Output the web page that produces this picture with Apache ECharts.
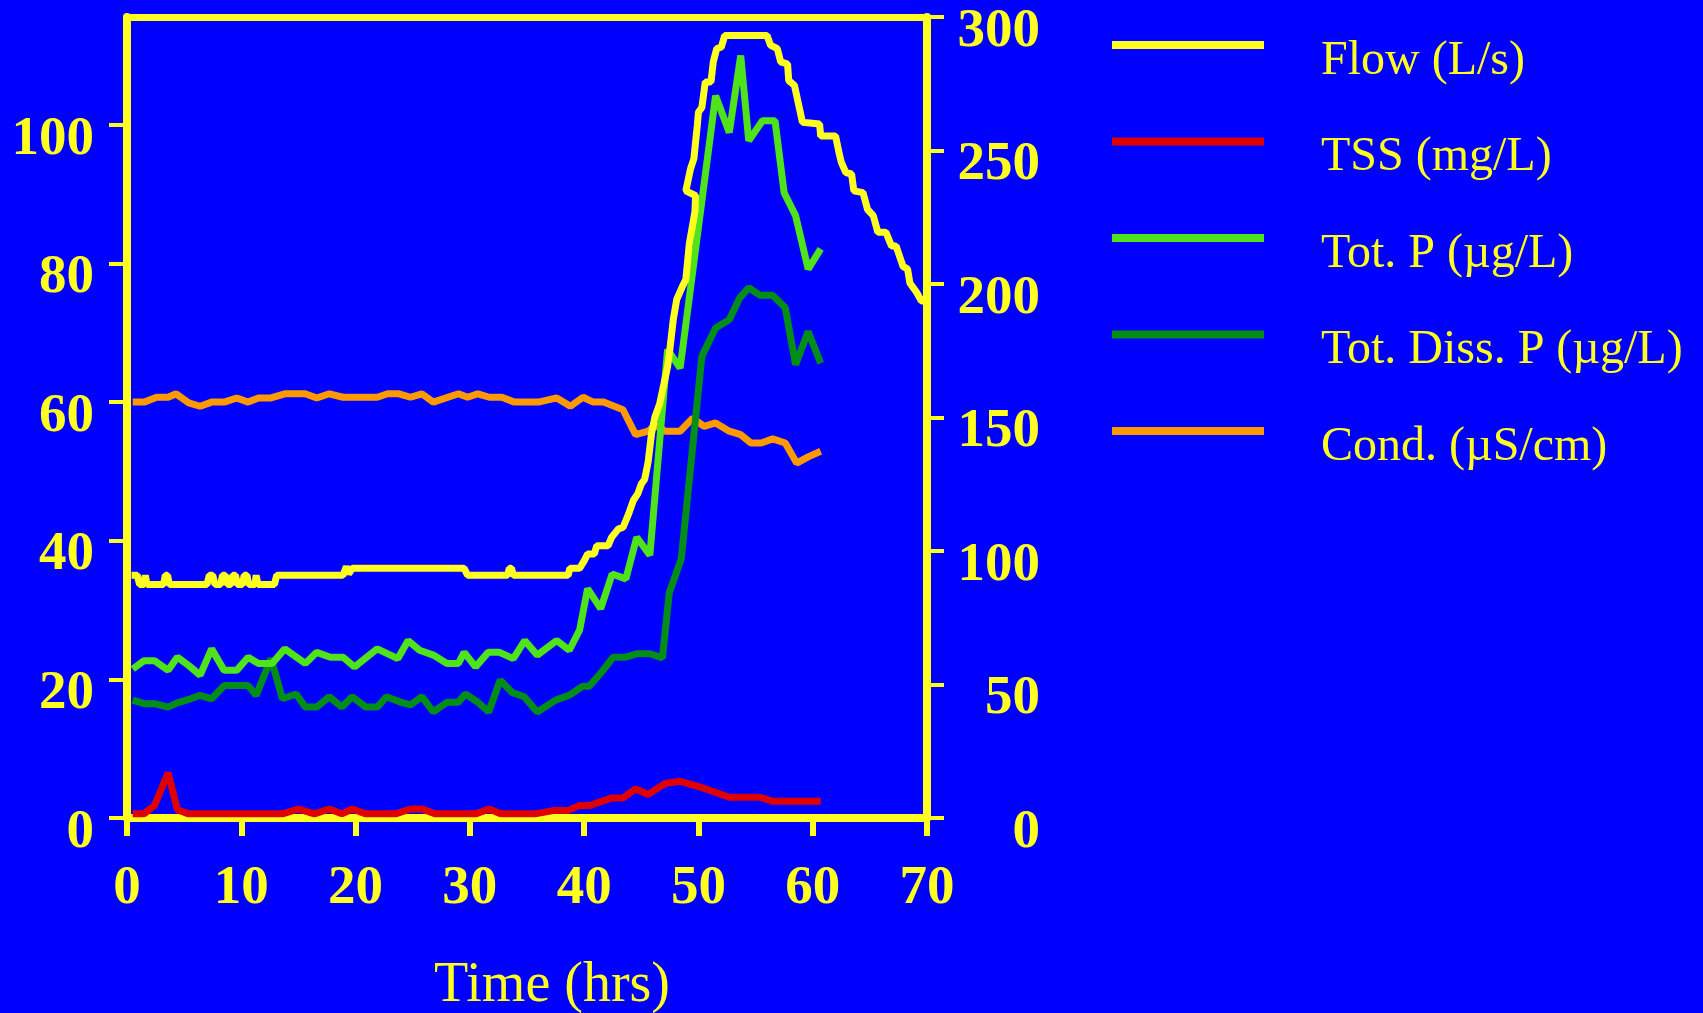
<!DOCTYPE html>
<html>
<head>
<meta charset="utf-8">
<script src="https://cdn.jsdelivr.net/npm/echarts@6/dist/echarts.min.js"></script>
<style>
  html, body { margin: 0; padding: 0; background: #0000ff; }
  #chart { width: 1703px; height: 1013px; }
</style>
</head>
<body>
<div id="chart"></div>
<script>
// values, hours on x
const xTicks = [0, 10, 20, 30, 40, 50, 60, 70]
const leftTicks = [0, 20, 40, 60, 80, 100]
const rightTicks = [0, 50, 100, 150, 200, 250, 300]

const seriesNames = ['Flow (L/s)', 'TSS (mg/L)', 'Tot. P (\u00b5g/L)', 'Tot. Diss. P (\u00b5g/L)', 'Cond. (\u00b5S/cm)']

// flow, right axis
const flowTime = [0.4, 0.9, 1.1, 1.5, 1.6, 1.75, 3.2, 3.35, 3.55, 3.7, 7.0, 7.2, 7.5, 7.7, 8.2, 8.35, 8.6, 8.8, 9.1, 9.25,
  9.5, 9.65, 10.1, 10.25, 10.5, 10.65, 11.2, 11.3, 11.45, 12.9, 13.1, 18.9, 19.2, 19.4, 19.7, 29.5, 29.8, 33.3, 33.45, 33.65,
  33.8, 38.6, 38.75, 39.6, 40.0, 40.3, 40.9, 41.1, 42.1, 42.4, 43.0, 43.4, 43.9, 44.3, 44.7, 45.0, 45.3, 45.6, 45.9, 46.2,
  46.6, 47.3, 47.5, 47.8, 48.1, 48.6, 48.9, 49.2, 49.7, 49.75, 48.9, 49.3, 49.6, 49.9, 50.0, 50.3, 50.6, 51.1, 51.3, 51.6,
  52.0, 52.3, 56.0, 56.3, 56.9, 57.2, 57.8, 57.9, 58.4, 59.1, 60.6, 60.7, 62.0, 62.3, 62.5, 62.9, 63.4, 63.6, 64.4, 64.8,
  65.3, 65.7, 66.4, 66.9, 67.3, 67.9, 68.3, 68.5, 69.1, 69.5, 69.8]
const flowVal = [90.9, 90.9, 87.5, 87.5, 90.9, 87.5, 87.5, 90.9, 90.9, 87.5, 87.5, 90.9, 90.9, 87.5, 87.5, 90.9, 90.9, 87.5, 87.5, 90.9,
  90.9, 87.5, 87.5, 90.9, 90.9, 87.5, 87.5, 90.9, 87.5, 87.5, 90.9, 90.9, 94.2, 91.4, 93.5, 93.5, 90.9, 90.9, 93.5, 93.5,
  90.9, 90.9, 93.5, 93.5, 96.3, 98.9, 98.9, 102.0, 102.0, 105.1, 108.3, 108.8, 114.0, 118.9, 121.5, 125.1, 126.9, 133.4, 144.1, 150.3,
  155.0, 169.0, 175.5, 186.7, 194.2, 199.1, 201.7, 215.0, 227.2, 233.1, 234.9, 243.0, 246.9, 259.3, 264.3, 266.1, 275.7, 275.7, 283.2, 288.2,
  288.7, 293.1, 293.1, 289.5, 288.2, 283.2, 282.4, 276.2, 274.4, 260.6, 259.9, 255.4, 255.4, 249.2, 245.6, 241.7, 241.2, 234.9, 234.2, 227.9,
  225.6, 219.4, 219.4, 214.2, 214.2, 206.6, 205.6, 200.4, 196.8, 193.7, 193.5]

// TSS, left axis
const tssTime = [0.5, 1.5, 2.4, 3.6, 4.4, 5.4, 13.6, 15.0, 16.4, 17.7, 18.8, 19.7, 20.9, 23.5, 24.8, 25.8, 27.0, 30.5, 31.7, 32.7,
  35.7, 37.4, 38.6, 39.6, 40.5, 42.4, 43.4, 44.5, 45.6, 47.1, 48.4, 50.1, 52.7, 55.4, 56.5, 60.7]
const tssVal = [0.6, 0.6, 1.8, 6.5, 1.2, 0.6, 0.6, 1.3, 0.6, 1.3, 0.6, 1.3, 0.6, 0.6, 1.3, 1.3, 0.6, 0.6, 1.3, 0.6,
  0.6, 1.1, 1.1, 1.8, 1.8, 2.9, 2.9, 4.2, 3.4, 5.0, 5.3, 4.5, 3.0, 3.0, 2.4, 2.4]

// Tot. P, left axis
const tpTime = [0.5, 1.5, 2.4, 3.6, 4.4, 5.4, 6.4, 7.4, 8.5, 9.6, 10.6, 11.5, 12.7, 13.8, 15.6, 16.6, 17.8, 18.9, 19.9, 21.9,
  23.7, 24.6, 25.6, 26.8, 28.0, 29.0, 29.5, 30.5, 31.6, 32.6, 33.8, 34.8, 35.9, 37.6, 38.7, 39.6, 40.3, 41.45, 42.45, 43.65,
  44.6, 45.75, 47.3, 48.4, 51.5, 52.7, 53.7, 54.4, 55.6, 56.7, 57.5, 58.5, 59.6, 60.7]
const tpVal = [21.5, 22.7, 22.7, 21.3, 23.2, 22.0, 20.6, 24.4, 21.3, 21.3, 23.2, 22.3, 22.3, 24.4, 22.3, 23.9, 23.2, 23.2, 21.8, 24.4,
  23.0, 25.6, 24.2, 23.5, 22.3, 22.3, 23.9, 21.8, 23.9, 23.9, 23.0, 25.6, 23.5, 25.6, 24.2, 27.1, 33.1, 30.2, 35.2, 34.5,
  40.5, 37.9, 67.6, 64.9, 104.2, 98.9, 110.0, 97.7, 100.6, 100.6, 90.2, 86.9, 79.2, 82.1]

// Tot. Diss. P, left axis
const tdpTime = [0.5, 1.5, 2.4, 3.6, 4.4, 5.4, 6.4, 7.4, 8.5, 9.6, 10.6, 11.3, 12.6, 13.6, 14.8, 15.6, 16.6, 17.7, 18.8, 19.7,
  20.9, 21.9, 22.7, 23.8, 24.8, 25.8, 26.8, 28.0, 29.0, 29.6, 30.7, 31.65, 32.65, 33.7, 34.75, 35.9, 37.5, 38.7, 39.85, 40.45,
  41.55, 42.55, 43.65, 44.65, 45.75, 46.85, 47.45, 48.5, 50.3, 51.5, 52.7, 53.6, 54.4, 55.4, 56.5, 57.6, 58.5, 59.6, 60.7]
const tdpVal = [17.0, 16.5, 16.5, 16.0, 16.6, 17.1, 17.7, 17.2, 19.1, 19.1, 19.1, 17.7, 23.0, 17.2, 17.9, 16.0, 16.0, 17.5, 16.0, 17.5,
  16.0, 16.0, 17.5, 16.8, 16.3, 17.5, 15.3, 16.7, 16.7, 17.9, 16.7, 15.3, 19.9, 18.1, 17.5, 15.3, 17.0, 17.7, 19.0, 19.0,
  21.1, 23.2, 23.2, 23.7, 23.7, 23.1, 32.5, 37.4, 66.6, 70.7, 71.9, 75.0, 76.5, 75.4, 75.4, 73.6, 65.4, 70.2, 65.6]

// Cond., left axis
const condTime = [0.5, 1.5, 2.6, 3.6, 4.3, 5.4, 6.4, 7.4, 8.5, 9.6, 10.6, 11.5, 12.6, 13.8, 15.6, 16.6, 17.7, 18.9, 21.9, 22.8,
  23.8, 24.8, 25.8, 26.8, 29.0, 29.8, 30.7, 31.7, 32.8, 33.9, 36.0, 37.6, 38.8, 39.9, 40.8, 41.7, 43.4, 44.5, 45.6, 46.2,
  47.1, 48.4, 49.5, 50.5, 51.5, 52.7, 53.7, 54.6, 55.5, 56.5, 57.6, 58.6, 59.6, 60.7]
const condVal = [60.0, 60.0, 60.7, 60.7, 61.2, 59.9, 59.4, 60.0, 60.0, 60.6, 60.0, 60.6, 60.6, 61.2, 61.2, 60.6, 61.2, 60.7, 60.7, 61.2,
  61.2, 60.7, 61.2, 60.0, 61.2, 60.7, 61.2, 60.7, 60.7, 60.0, 60.0, 60.6, 59.4, 60.7, 60.0, 60.0, 58.9, 55.3, 55.8, 56.7,
  55.8, 55.8, 57.7, 56.5, 57.0, 55.8, 55.3, 54.1, 54.1, 54.7, 54.1, 51.2, 52.1, 52.9]

const YEL = '#ffff1f'
const FONT = '"Liberation Serif", "Times New Roman", serif'

const pairs = (xs, ys) => xs.map((x, i) => [x, ys[i]])

const lineSeries = (name, data, color, yAxisIndex) => ({
  name: name,
  type: 'line',
  data: data,
  yAxisIndex: yAxisIndex,
  symbol: 'none',
  showSymbol: false,
  lineStyle: { color: color, width: 7 },
  itemStyle: { color: color }
})

// tick labels sit a little below their ticks in the original
const tickLabel = (extra) => Object.assign({
  color: YEL, fontFamily: FONT, fontSize: 55, fontWeight: 'bold', verticalAlign: 'top', lineHeight: 29
}, extra)

const chart = echarts.init(document.getElementById('chart'))
chart.setOption({
  backgroundColor: '#0000ff',
  animation: false,
  grid: { left: 127, right: 776, top: 17, bottom: 195, containLabel: false, outerBoundsMode: 'none' },
  legend: {
    orient: 'vertical',
    left: 1112,
    top: 21,
    padding: 0,
    icon: 'rect',
    itemWidth: 152,
    itemHeight: 8,
    itemGap: 32.5,
    data: seriesNames,
    formatter: name => '{s| }{t|' + name + '}',
    textStyle: {
      color: YEL, fontFamily: FONT, fontSize: 48, padding: [0, 0, 0, 40],
      rich: {
        s: { fontFamily: FONT, fontSize: 48, lineHeight: 80 },
        t: { color: YEL, fontFamily: FONT, fontSize: 48, lineHeight: 56, verticalAlign: 'bottom' }
      }
    }
  },
  xAxis: [{
    type: 'value',
    min: xTicks[0],
    max: xTicks[xTicks.length - 1],
    interval: 10,
    name: 'Time (hrs)',
    nameLocation: 'middle',
    nameGap: 140,
    nameTextStyle: { color: YEL, fontFamily: FONT, fontSize: 56, padding: [0, 0, 0, 50] },
    axisLine: { onZero: false, lineStyle: { color: YEL, width: 8 } },
    axisTick: { length: 18, lineStyle: { color: YEL, width: 6 } },
    axisLabel: { margin: 43, color: YEL, fontFamily: FONT, fontSize: 55, fontWeight: 'bold' },
    splitLine: { show: false }
  }, {
    type: 'value',
    position: 'top',
    min: 0,
    max: 70,
    axisLine: { show: true, onZero: false, lineStyle: { color: YEL, width: 7 } },
    axisTick: { show: false },
    axisLabel: { show: false },
    splitLine: { show: false }
  }],
  yAxis: [{
    type: 'value',
    position: 'left',
    min: 0,
    max: 115.56,
    interval: 20,
    axisLine: { show: true, onZero: false, lineStyle: { color: YEL, width: 8 } },
    axisTick: { show: true, length: 18, customValues: leftTicks, lineStyle: { color: YEL, width: 4 } },
    axisLabel: tickLabel({ customValues: leftTicks, margin: 33 }),
    splitLine: { show: false }
  }, {
    type: 'value',
    position: 'right',
    min: rightTicks[0],
    max: rightTicks[rightTicks.length - 1],
    interval: 50,
    axisLine: { show: true, onZero: false, lineStyle: { color: YEL, width: 8 } },
    axisTick: { show: true, length: 17, lineStyle: { color: YEL, width: 4 } },
    axisLabel: tickLabel({ align: 'right', margin: 113 }),
    splitLine: { show: false }
  }],
  // drawn bottom to top
  series: [
    lineSeries(seriesNames[4], pairs(condTime, condVal), '#ff9900', 0),
    lineSeries(seriesNames[1], pairs(tssTime, tssVal), '#e00000', 0),
    lineSeries(seriesNames[3], pairs(tdpTime, tdpVal), '#038f17', 0),
    lineSeries(seriesNames[2], pairs(tpTime, tpVal), '#4fe31a', 0),
    lineSeries(seriesNames[0], pairs(flowTime, flowVal), YEL, 1)
  ]
})
</script>
</body>
</html>
